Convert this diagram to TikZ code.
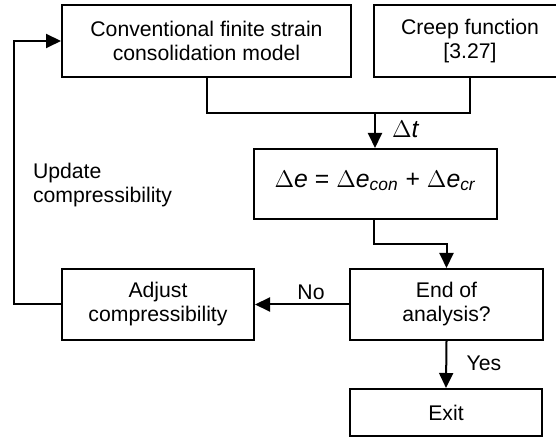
\documentclass[tikz,border=0pt]{standalone}
\usepackage{fontspec}
\setmainfont{Liberation Sans}
\usetikzlibrary{arrows.meta,calc}

\begin{document}
\begin{tikzpicture}[x=0.5pt,y=-0.5pt,
  line width=1pt,
  every node/.style={font=\fontsize{10.6pt}{12pt}\selectfont, inner sep=0pt},
  box/.style={draw, rectangle, align=center, minimum height=36pt},
  eqfont/.style={font=\fontsize{12.4pt}{15pt}\selectfont},
  arr/.style={-{Triangle[length=7.5pt,width=7pt]}},
  lbl/.style={}
]
\useasboundingbox (0,0) rectangle (556,437);
\clip (0,0) rectangle (556,437);

% process boxes
\node[box, minimum width=144.5pt] (conv) at (206.5,41) {Conventional finite strain\\consolidation model};
\node[box, minimum width=96pt] (creep) at (470,41) {Creep function\\{}[3.27]};
\node[box, minimum width=121.5pt, minimum height=35pt, eqfont, text depth=5pt] (eq) at (375.5,184)
  {$\Delta$\textit{e} = $\Delta$\textit{e}\textsubscript{\textit{con}} + $\Delta$\textit{e}\textsubscript{\textit{cr}}};
\node[box, minimum width=96pt, minimum height=35.5pt] (adjust) at (158,304.5) {Adjust\\compressibility};
\node[box, minimum width=96.5pt, minimum height=35.5pt] (end) at (446.5,304.5) {End of\\analysis?};
\node[box, minimum width=96pt, minimum height=23.5pt] (exit) at (446,412.5) {Exit};

% merge of the two inputs into the time step
\coordinate (join) at (375,113);
\draw (conv.south) -- (conv.south |- join) -| (creep.south);
\draw[arr] (join) -- (join |- eq.north);
\node[lbl, eqfont, anchor=west] (dt) at (391,129) {$\Delta$\textit{t}};

% equation to decision
\coordinate (eqout) at (374,244);
\draw[arr] (eqout |- eq.south) -- (eqout) -| (end.north);

% decision branches
\draw[arr] (end.west) -- (adjust.east);
\node[lbl] (no) at (311,292) {No};
\draw[arr] (end.south) -- (exit.north);
\node[lbl] (yes) at (484,363) {Yes};

% feedback loop
\coordinate (loop) at (14,304.5);
\draw[arr] (adjust.west) -- (loop) |- (conv.west);
\node[lbl, align=left, anchor=west] (upd) at (32,185) {Update\\compressibility};
\end{tikzpicture}
\end{document}
